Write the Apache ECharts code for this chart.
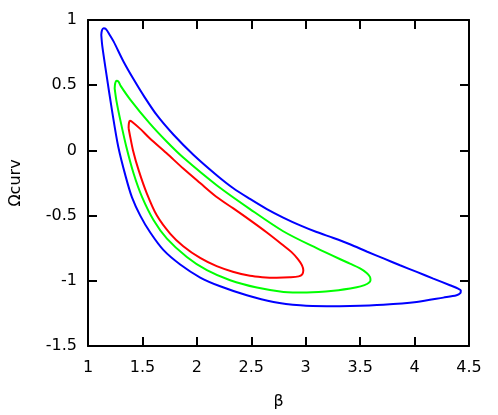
<!DOCTYPE html>
<html>
<head>
<meta charset="utf-8">
<script src="https://cdn.jsdelivr.net/npm/echarts@6/dist/echarts.min.js"></script>
<style>html,body{margin:0;padding:0;background:#fff}#c{width:498px;height:415px}</style>
</head>
<body>
<div id="c"></div>
<script>
const xTicks = [1, 1.5, 2, 2.5, 3, 3.5, 4, 4.5];
const yTicks = [-1.5, -1, -0.5, 0, 0.5, 1];

const blueBeta = [1.122,1.128,1.144,1.165,1.200,1.236,1.327,1.419,1.511,1.633,1.786,1.970,2.182,2.335,2.488,2.643,2.793,2.949,3.100,3.255,3.406,3.560,3.720,3.866,4.020,4.172,4.325,4.400,4.425,4.420,4.386,4.264,4.019,3.713,3.407,3.193,2.949,2.704,2.459,2.214,2.031,1.847,1.694,1.572,1.480,1.404,1.347,1.278,1.220,1.168,1.132,1.122];
const blueOmega = [0.885,0.920,0.936,0.930,0.885,0.834,0.680,0.545,0.420,0.270,0.120,-0.035,-0.190,-0.290,-0.372,-0.450,-0.515,-0.575,-0.626,-0.672,-0.720,-0.775,-0.830,-0.881,-0.932,-0.983,-1.034,-1.060,-1.075,-1.095,-1.111,-1.129,-1.162,-1.183,-1.193,-1.195,-1.188,-1.162,-1.111,-1.042,-0.975,-0.875,-0.765,-0.630,-0.500,-0.360,-0.203,0.028,0.309,0.591,0.795,0.885];

const greenBeta = [1.245,1.250,1.262,1.280,1.300,1.388,1.569,1.720,1.875,2.182,2.488,2.793,3.100,3.406,3.499,3.560,3.590,3.595,3.580,3.540,3.469,3.255,3.010,2.796,2.551,2.306,2.092,1.908,1.725,1.603,1.496,1.419,1.352,1.297,1.260,1.245];
const greenOmega = [0.475,0.515,0.534,0.528,0.495,0.390,0.205,0.070,-0.055,-0.267,-0.450,-0.620,-0.750,-0.869,-0.905,-0.940,-0.970,-0.995,-1.015,-1.033,-1.050,-1.077,-1.090,-1.085,-1.052,-0.996,-0.919,-0.817,-0.676,-0.535,-0.356,-0.177,0.028,0.232,0.386,0.475];

const redBeta = [1.373,1.376,1.385,1.404,1.480,1.569,1.720,1.875,2.030,2.182,2.335,2.488,2.640,2.793,2.870,2.930,2.965,2.978,2.968,2.935,2.855,2.733,2.600,2.488,2.330,2.182,2.030,1.875,1.756,1.633,1.541,1.465,1.413,1.382,1.373];
const redOmega = [0.170,0.210,0.227,0.220,0.165,0.091,-0.020,-0.139,-0.250,-0.357,-0.445,-0.535,-0.628,-0.728,-0.780,-0.835,-0.880,-0.920,-0.950,-0.966,-0.973,-0.976,-0.972,-0.962,-0.930,-0.888,-0.825,-0.735,-0.640,-0.500,-0.331,-0.151,0.002,0.130,0.170];

const pairs = (xs, ys) => xs.map((x, i) => [x, ys[i]]);
const font = 'DejaVu Sans';
const axisBase = (pos, isX, show) => ({
  type: 'value',
  position: pos,
  min: isX ? xTicks[0] : yTicks[0],
  max: isX ? xTicks[xTicks.length - 1] : yTicks[yTicks.length - 1],
  interval: 0.5,
  axisLine: { show: true, onZero: false, lineStyle: { color: '#000', width: 2 } },
  axisTick: { show: true, inside: true, length: 9, lineStyle: { color: '#000', width: 2 } },
  axisLabel: { show: show, color: '#000', fontFamily: font, fontSize: 16, margin: isX ? 14 : 11 },
  splitLine: { show: false }
});

const chart = echarts.init(document.getElementById('c'), null, { renderer: 'canvas' });
const xMain = Object.assign(axisBase('bottom', true, true), { name: 'β', nameLocation: 'middle', nameGap: 48, nameTextStyle: { color: '#000', fontFamily: font, fontSize: 16 } });
const yMain = Object.assign(axisBase('left', false, true), { name: 'Ωcurv', nameLocation: 'middle', nameGap: 64, nameTextStyle: { color: '#000', fontFamily: font, fontSize: 16 } });
const line = (name, xs, ys, color) => ({
  name, type: 'line', data: pairs(xs, ys), showSymbol: false, smooth: 0.3,
  lineStyle: { color, width: 2 }, itemStyle: { color }, animation: false, clip: false
});
chart.setOption({
  animation: false,
  grid: { left: 88, right: 29, top: 20, bottom: 69 },
  xAxis: [xMain, axisBase('top', true, false)],
  yAxis: [yMain, axisBase('right', false, false)],
  series: [
    line('blue', blueBeta, blueOmega, '#0000ff'),
    line('green', greenBeta, greenOmega, '#00ff00'),
    line('red', redBeta, redOmega, '#ff0000')
  ]
});
</script>
</body>
</html>
